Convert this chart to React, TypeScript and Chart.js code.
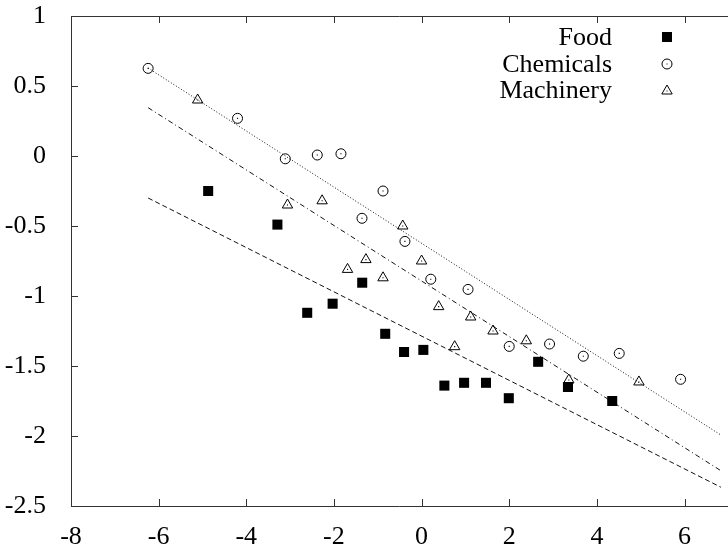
import React, { useEffect, useRef } from "react";
import { Chart, registerables } from "chart.js";

Chart.register(...registerables);

const xTicks = [-8, -6, -4, -2, 0, 2, 4, 6];
const yTicks = [1, 0.5, 0, -0.5, -1, -1.5, -2, -2.5];
const xMin = -8;
const xMax = 6.83;
const yMin = -2.5;
const yMax = 1;

const seriesNames = ["Food", "Chemicals", "Machinery"];

const foodX = [-4.87, -3.29, -2.61, -2.03, -1.355, -0.83, -0.4, 0.04, 0.52, 0.97, 1.47, 1.99, 2.66, 3.34, 4.35];
const foodY = [-0.25, -0.49, -1.12, -1.055, -0.905, -1.27, -1.4, -1.385, -1.64, -1.62, -1.62, -1.73, -1.47, -1.65, -1.75];

const chemX = [-6.24, -4.2, -3.11, -2.38, -1.84, -0.88, -1.36, -0.38, 0.21, 1.06, 2.0, 2.92, 3.69, 4.51, 5.91];
const chemY = [0.626, 0.269, -0.02, 0.007, 0.016, -0.25, -0.445, -0.61, -0.88, -0.953, -1.36, -1.343, -1.43, -1.41, -1.595];

const machX = [-5.11, -3.06, -2.27, -1.69, -1.27, -0.88, -0.43, 0.0, 0.39, 0.755, 1.12, 1.63, 2.39, 3.36, 4.96];
const machY = [0.4, -0.35, -0.32, -0.81, -0.74, -0.87, -0.5, -0.75, -1.076, -1.362, -1.15, -1.25, -1.32, -1.6, -1.614];

// fitted lines: endpoints at x = fitX[0], fitX[1]
const fitX = [-6.24, 6.83];
const foodFitY = [-0.3, -2.366];
const chemFitY = [0.628, -1.993];
const machFitY = [0.345, -2.248];

const FONT = "'Liberation Serif', 'Times New Roman', serif";
const FONT_SIZE = 26;

function pts(xs: number[], ys: number[]) {
  return xs.map((x, i) => ({ x, y: ys[i] }));
}

const framePlugin = {
  id: "gnuplotFrame",
  afterDraw(chart: any) {
    const { ctx, chartArea, width } = chart;
    const xs = chart.scales.x;
    const ys = chart.scales.y;
    const { left, top, bottom } = chartArea;
    ctx.save();
    ctx.strokeStyle = "#333";
    ctx.lineWidth = 1;
    ctx.beginPath();
    ctx.moveTo(left + 0.5, top + 0.5);
    ctx.lineTo(width, top + 0.5);
    ctx.moveTo(left + 0.5, top);
    ctx.lineTo(left + 0.5, bottom + 0.5);
    ctx.lineTo(width, bottom + 0.5);
    const tl = 7;
    xTicks.forEach((v) => {
      const px = Math.round(xs.getPixelForValue(v)) + 0.5;
      ctx.moveTo(px, bottom);
      ctx.lineTo(px, bottom - tl);
      ctx.moveTo(px, top);
      ctx.lineTo(px, top + tl);
    });
    yTicks.forEach((v) => {
      const py = Math.round(ys.getPixelForValue(v)) + 0.5;
      ctx.moveTo(left, py);
      ctx.lineTo(left + tl, py);
    });
    ctx.stroke();

    // legend (gnuplot style: right-aligned text, marker to the right)
    ctx.font = `${FONT_SIZE}px ${FONT}`;
    ctx.fillStyle = "#000";
    ctx.strokeStyle = "#000";
    ctx.textAlign = "right";
    ctx.textBaseline = "middle";
    const textRight = 612;
    const markX = 667;
    const rowY = [37, 64, 90];
    seriesNames.forEach((name, i) => {
      ctx.fillText(name, textRight, rowY[i] + 1);
      const cy = rowY[i];
      if (i === 0) {
        ctx.fillRect(markX - 5, cy - 5, 10, 10);
      } else if (i === 1) {
        ctx.beginPath();
        ctx.arc(markX, cy, 5, 0, Math.PI * 2);
        ctx.stroke();
        ctx.fillRect(markX - 0.5, cy - 0.5, 1, 1);
      } else {
        ctx.beginPath();
        ctx.moveTo(markX, cy - 5);
        ctx.lineTo(markX - 5.2, cy + 4);
        ctx.lineTo(markX + 5.2, cy + 4);
        ctx.closePath();
        ctx.stroke();
        ctx.fillRect(markX - 0.5, cy + 0.5, 1, 1);
      }
    });
    ctx.restore();
  },
};

export default function App() {
  const ref = useRef<HTMLCanvasElement | null>(null);

  useEffect(() => {
    document.body.style.margin = "0";
    const canvas = ref.current!;
    const dotStyle = {
      pointStyle: "rect",
      pointRadius: 0.8,
      backgroundColor: "#000",
      borderWidth: 0,
    };
    const chart: any = new Chart(canvas, {
      type: "scatter",
      data: {
        datasets: [
          {
            label: seriesNames[0],
            data: pts(foodX, foodY),
            pointStyle: "rect",
            pointRadius: 7.1,
            backgroundColor: "#000",
            borderColor: "#000",
            borderWidth: 0,
          },
          {
            label: seriesNames[1],
            data: pts(chemX, chemY),
            pointStyle: "circle",
            pointRadius: 5,
            backgroundColor: "rgba(0,0,0,0)",
            borderColor: "#000",
            borderWidth: 1,
          },
          {
            label: seriesNames[1] + " centre",
            data: pts(chemX, chemY),
            ...dotStyle,
          },
          {
            label: seriesNames[2],
            data: pts(machX, machY),
            pointStyle: "triangle",
            pointRadius: 6,
            backgroundColor: "rgba(0,0,0,0)",
            borderColor: "#000",
            borderWidth: 1,
          },
          {
            label: seriesNames[2] + " centre",
            data: pts(machX, machY),
            ...dotStyle,
          },
          {
            label: "food fit",
            data: pts(fitX, foodFitY),
            showLine: true,
            pointRadius: 0,
            borderColor: "#111",
            borderWidth: 1,
            borderDash: [5, 3],
          },
          {
            label: "chemicals fit",
            data: pts(fitX, chemFitY),
            showLine: true,
            pointRadius: 0,
            borderColor: "#111",
            borderWidth: 1,
            borderDash: [1, 2],
          },
          {
            label: "machinery fit",
            data: pts(fitX, machFitY),
            showLine: true,
            pointRadius: 0,
            borderColor: "#111",
            borderWidth: 1,
            borderDash: [5, 3, 1, 3],
          },
        ],
      },
      options: {
        animation: false,
        responsive: false,
        devicePixelRatio: 1,
        layout: { padding: { top: 16, right: 0, left: 0, bottom: 0 } },
        plugins: {
          legend: { display: false },
          tooltip: { enabled: false },
        },
        scales: {
          x: {
            type: "linear",
            min: xMin,
            max: xMax,
            grid: { display: false },
            border: { display: false },
            afterBuildTicks: (s: any) => {
              s.ticks = xTicks.map((v) => ({ value: v }));
            },
            afterFit: (s: any) => {
              s.height = 41;
              s.paddingLeft = 0;
              s.paddingRight = 0;
            },
            ticks: {
              color: "#000",
              font: { family: FONT, size: FONT_SIZE },
              padding: 8,
              maxRotation: 0,
              callback: (v: any) => String(v),
            },
          },
          y: {
            type: "linear",
            min: yMin,
            max: yMax,
            grid: { display: false },
            border: { display: false },
            afterBuildTicks: (s: any) => {
              s.ticks = yTicks.map((v) => ({ value: v }));
            },
            afterFit: (s: any) => {
              s.width = 71;
              s.paddingTop = 0;
              s.paddingBottom = 0;
            },
            ticks: {
              color: "#000",
              font: { family: FONT, size: FONT_SIZE },
              padding: 17,
              callback: (v: any) => String(v),
            },
          },
        },
      },
      plugins: [framePlugin],
    });
    // stretch the plot so the x scale's max meets the canvas edge (cropped gnuplot frame)
    for (let i = 0; i < 3; i++) {
      const endPx = chart.scales.x.getPixelForValue(xMax);
      const gap = 728 - endPx;
      if (Math.abs(gap) < 0.5) break;
      chart.options.layout.padding.right = (chart.options.layout.padding.right || 0) - gap;
      chart.update();
    }
    return () => chart.destroy();
  }, []);

  return <canvas ref={ref} width={728} height={547} style={{ display: "block", width: 728, height: 547 }} />;
}
